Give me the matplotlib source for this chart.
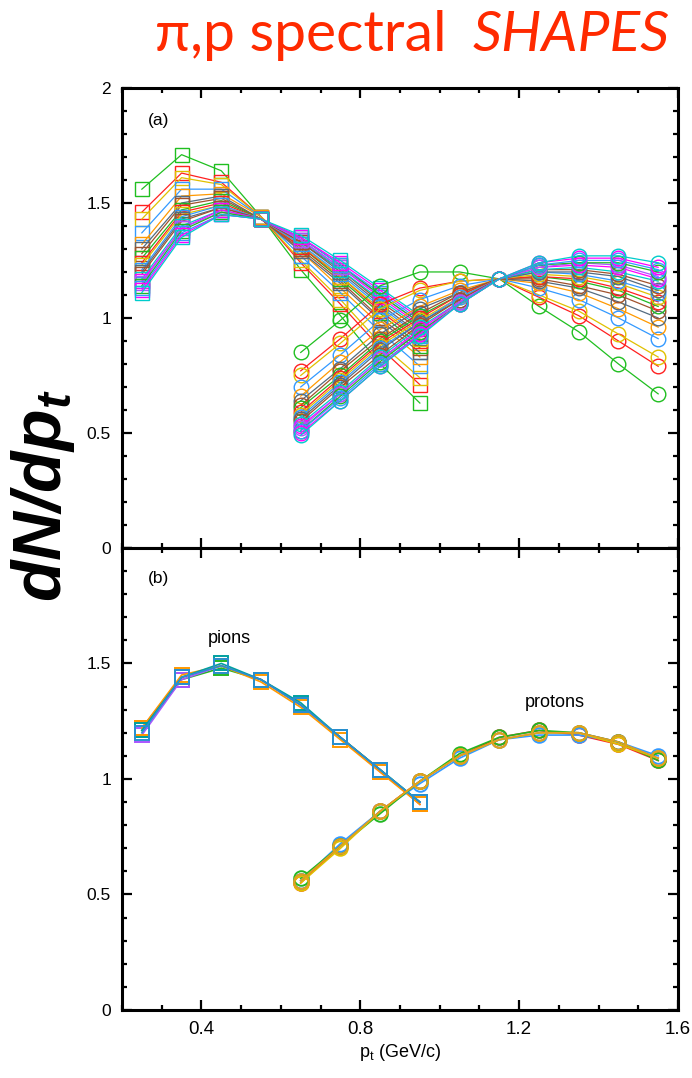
import numpy as np
import matplotlib
matplotlib.use("Agg")
import matplotlib.pyplot as plt
from matplotlib.ticker import MultipleLocator

plt.rcParams['font.family'] = ['Liberation Sans', 'DejaVu Sans']
plt.rcParams['mathtext.fontset'] = 'custom'
plt.rcParams['mathtext.rm'] = 'Liberation Sans'
plt.rcParams['mathtext.it'] = 'Liberation Sans:italic'
plt.rcParams['mathtext.bf'] = 'Liberation Sans:bold:italic'

# pt bins
pt_pi = [0.25, 0.35, 0.45, 0.55, 0.65, 0.75, 0.85, 0.95]
pt_p = [0.65, 0.75, 0.85, 0.95, 1.05, 1.15, 1.25, 1.35, 1.45, 1.55]

# (a) individual spectral shapes, steepest first
pion_a = [
    [1.56, 1.71, 1.64, 1.44, 1.21, 1.01, 0.80, 0.63],
    [1.46, 1.63, 1.59, 1.44, 1.24, 1.06, 0.87, 0.71],
    [1.43, 1.61, 1.58, 1.44, 1.25, 1.08, 0.89, 0.74],
    [1.37, 1.56, 1.56, 1.44, 1.27, 1.11, 0.94, 0.79],
    [1.32, 1.53, 1.54, 1.44, 1.29, 1.13, 0.97, 0.83],
    [1.30, 1.50, 1.53, 1.43, 1.29, 1.15, 0.99, 0.85],
    [1.28, 1.49, 1.52, 1.43, 1.30, 1.16, 1.00, 0.87],
    [1.26, 1.47, 1.51, 1.43, 1.31, 1.17, 1.02, 0.88],
    [1.24, 1.46, 1.50, 1.43, 1.31, 1.18, 1.03, 0.90],
    [1.23, 1.45, 1.49, 1.43, 1.32, 1.18, 1.04, 0.91],
    [1.21, 1.44, 1.49, 1.43, 1.32, 1.19, 1.05, 0.92],
    [1.20, 1.43, 1.48, 1.43, 1.33, 1.20, 1.06, 0.93],
    [1.19, 1.42, 1.48, 1.43, 1.33, 1.21, 1.07, 0.95],
    [1.17, 1.40, 1.47, 1.43, 1.34, 1.21, 1.08, 0.96],
    [1.16, 1.39, 1.47, 1.43, 1.34, 1.22, 1.09, 0.97],
    [1.15, 1.39, 1.46, 1.43, 1.34, 1.22, 1.10, 0.98],
    [1.14, 1.38, 1.46, 1.43, 1.35, 1.23, 1.10, 0.98],
    [1.13, 1.37, 1.45, 1.43, 1.35, 1.23, 1.11, 0.99],
    [1.12, 1.36, 1.45, 1.43, 1.35, 1.24, 1.12, 1.00],
    [1.11, 1.35, 1.45, 1.43, 1.36, 1.25, 1.13, 1.01],
]
proton_a = [
    [0.85, 0.99, 1.14, 1.20, 1.20, 1.17, 1.05, 0.94, 0.80, 0.67],
    [0.77, 0.91, 1.06, 1.13, 1.16, 1.17, 1.09, 1.01, 0.90, 0.79],
    [0.75, 0.89, 1.04, 1.12, 1.16, 1.17, 1.10, 1.03, 0.93, 0.83],
    [0.70, 0.84, 0.99, 1.08, 1.14, 1.17, 1.13, 1.08, 1.00, 0.91],
    [0.66, 0.81, 0.95, 1.05, 1.12, 1.17, 1.15, 1.11, 1.04, 0.96],
    [0.64, 0.78, 0.93, 1.04, 1.11, 1.17, 1.16, 1.13, 1.07, 1.00],
    [0.62, 0.77, 0.91, 1.02, 1.11, 1.17, 1.17, 1.14, 1.10, 1.03],
    [0.61, 0.75, 0.90, 1.01, 1.10, 1.17, 1.18, 1.16, 1.12, 1.05],
    [0.59, 0.74, 0.89, 1.00, 1.10, 1.17, 1.18, 1.17, 1.13, 1.07],
    [0.58, 0.73, 0.88, 0.99, 1.09, 1.17, 1.19, 1.18, 1.15, 1.09],
    [0.57, 0.72, 0.87, 0.98, 1.09, 1.17, 1.20, 1.19, 1.16, 1.11],
    [0.56, 0.71, 0.86, 0.98, 1.08, 1.17, 1.20, 1.20, 1.18, 1.12],
    [0.55, 0.70, 0.84, 0.97, 1.08, 1.17, 1.21, 1.21, 1.19, 1.14],
    [0.54, 0.68, 0.83, 0.96, 1.07, 1.17, 1.21, 1.22, 1.20, 1.16],
    [0.53, 0.67, 0.82, 0.95, 1.07, 1.17, 1.22, 1.23, 1.22, 1.17],
    [0.52, 0.67, 0.82, 0.94, 1.07, 1.17, 1.22, 1.24, 1.23, 1.18],
    [0.51, 0.66, 0.81, 0.94, 1.06, 1.17, 1.23, 1.24, 1.24, 1.20],
    [0.51, 0.65, 0.80, 0.93, 1.06, 1.17, 1.23, 1.25, 1.25, 1.21],
    [0.50, 0.64, 0.79, 0.93, 1.06, 1.17, 1.24, 1.26, 1.26, 1.22],
    [0.49, 0.64, 0.79, 0.92, 1.06, 1.17, 1.24, 1.27, 1.27, 1.24],
]
colors_a = ['#1fbf1f', '#ff2020', '#e0c000', '#3399ff', '#ff9900',
            '#556b7f', '#a0522d', '#22b822', '#ff2020', '#e0c000',
            '#3399ff', '#556b7f', '#a0522d', '#00cccc', '#ff00ff',
            '#aa55ff', '#22b822', '#3399ff', '#ff00ff', '#00cccc']

# (b) scaled shapes, all collapse
pion_b = [
    [1.22, 1.44, 1.49, 1.43, 1.32, 1.18, 1.04, 0.89],
    [1.21, 1.43, 1.48, 1.43, 1.32, 1.18, 1.04, 0.90],
    [1.19, 1.43, 1.49, 1.43, 1.32, 1.18, 1.03, 0.90],
    [1.22, 1.45, 1.49, 1.42, 1.31, 1.17, 1.03, 0.89],
    [1.21, 1.44, 1.50, 1.43, 1.33, 1.18, 1.04, 0.90],
    [1.20, 1.44, 1.49, 1.43, 1.32, 1.18, 1.04, 0.90],
]
proton_b = [
    [0.56, 0.71, 0.86, 0.99, 1.10, 1.17, 1.20, 1.20, 1.16, 1.09],
    [0.55, 0.71, 0.86, 0.99, 1.10, 1.18, 1.21, 1.19, 1.15, 1.08],
    [0.56, 0.72, 0.86, 0.98, 1.09, 1.17, 1.19, 1.19, 1.16, 1.10],
    [0.57, 0.71, 0.85, 0.99, 1.11, 1.18, 1.21, 1.20, 1.16, 1.08],
    [0.55, 0.70, 0.86, 0.99, 1.10, 1.17, 1.20, 1.20, 1.15, 1.09],
    [0.56, 0.71, 0.86, 0.99, 1.10, 1.17, 1.20, 1.20, 1.16, 1.09],
]
colors_b_pi = ['#ff2020', '#22b822', '#aa55ff', '#ff9900', '#00a0a0', '#2a8fd0']
colors_b_p = ['#aa55ff', '#ff2020', '#3399ff', '#22b822', '#e0c000', '#e0a020']

fig = plt.figure(figsize=(6.92, 10.78), dpi=100)
ax_a = fig.add_axes([0.1763, 0.4917, 0.8035, 0.4267])
ax_b = fig.add_axes([0.1763, 0.0631, 0.8035, 0.4286])

for i in range(len(pion_a)):
    ax_a.plot(pt_pi, pion_a[i], '-s', color=colors_a[i], lw=0.9, ms=10.5,
              mfc='none', mew=1.0)
for i in range(len(proton_a)):
    ax_a.plot(pt_p, proton_a[i], '-o', color=colors_a[i], lw=0.9, ms=10.5,
              mfc='none', mew=1.0)

for i in range(len(pion_b)):
    ax_b.plot(pt_pi, pion_b[i], '-s', color=colors_b_pi[i], lw=1.2, ms=10.5,
              mfc='none', mew=1.4)
for i in range(len(proton_b)):
    ax_b.plot(pt_p, proton_b[i], '-o', color=colors_b_p[i], lw=1.2, ms=10.5,
              mfc='none', mew=1.4)

for ax in (ax_a, ax_b):
    ax.set_xlim(0.2, 1.6)
    ax.set_ylim(0, 2)
    ax.xaxis.set_major_locator(MultipleLocator(0.4))
    ax.xaxis.set_minor_locator(MultipleLocator(0.1))
    ax.yaxis.set_major_locator(MultipleLocator(0.5))
    ax.yaxis.set_minor_locator(MultipleLocator(0.1))
    ax.tick_params(which='both', direction='in', top=True, right=True,
                   width=1.6, labelsize=12.5)
    ax.tick_params(which='major', length=7, pad=8)
    ax.tick_params(which='minor', length=3.5)
    for s in ax.spines.values():
        s.set_linewidth(2.2)
    ax.set_yticks([0, 0.5, 1, 1.5, 2])
    ax.set_yticklabels(['0', '0.5', '1', '1.5', '2'])

ax_a.tick_params(labelbottom=False)
ax_b.set_yticklabels(['0', '0.5', '1', '1.5', ''])
ax_b.set_xticks([0.4, 0.8, 1.2, 1.6])
ax_b.set_xticklabels(['0.4', '0.8', '1.2', '1.6'])
ax_b.tick_params(axis='x', labelsize=13.5)
ax_b.set_xlabel(r'p$_\mathregular{t}$ (GeV/c)', fontsize=13, labelpad=3)

ax_a.text(0.265, 1.84, '(a)', fontsize=12.5)
ax_b.text(0.265, 1.85, '(b)', fontsize=12.5)
ax_b.text(0.47, 1.59, 'pions', fontsize=13, ha='center')
ax_b.text(1.29, 1.31, 'protons', fontsize=13, ha='center')

title_col = '#ff2a00'
fig.text(0.646, 0.967, '\u03c0,p spectral', color=title_col, fontsize=41,
         family=['Lato', 'DejaVu Sans'], ha='right', va='center')
fig.text(0.683, 0.967, 'SHAPES', color=title_col, fontsize=41,
         family=['Lato', 'DejaVu Sans'], style='italic', ha='left', va='center')

fig.text(0.062, 0.54, r'$\mathbf{dN/dp_t}$', fontsize=49,
         rotation=90, ha='center', va='center')

fig.savefig('out.png', dpi=100)
